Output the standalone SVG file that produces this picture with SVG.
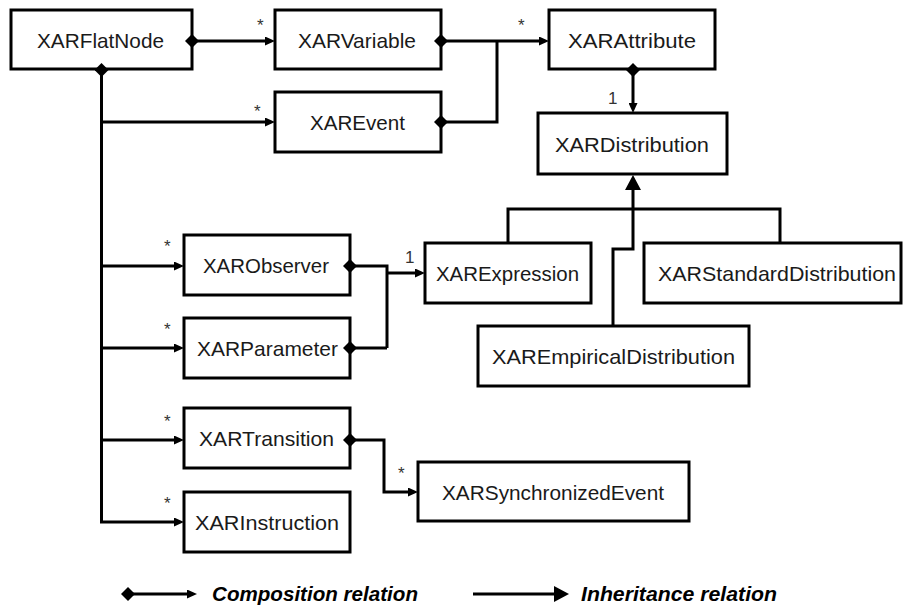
<svg xmlns="http://www.w3.org/2000/svg" width="904" height="610" viewBox="0 0 904 610">
<style>
  .box { fill: #ffffff; stroke: #000000; stroke-width: 3; }
  .lbl { font-family: "Liberation Sans", Arial, sans-serif; font-size: 21px; fill: #1a1a1a; }
  .card { font-family: "Liberation Sans", Arial, sans-serif; font-size: 17px; fill: #333333; }
  .num { font-family: "Liberation Sans", Arial, sans-serif; font-size: 17px; fill: #333333; }
  .leg { font-family: "Liberation Sans", Arial, sans-serif; font-size: 21px; font-weight: bold; font-style: italic; fill: #000000; }
  .ln { fill: none; stroke: #000000; stroke-width: 3; stroke-linejoin: miter; }
  .comp { marker-start: url(#diamond); }
  .arr { marker-end: url(#arrow); }
  .inh { marker-end: url(#tri); }
</style>
<defs>
  <marker id="arrow" viewBox="0 0 10 9" refX="4" refY="4.5" markerWidth="10" markerHeight="9" markerUnits="userSpaceOnUse" orient="auto">
    <path d="M0,0 L10,4.5 L0,9 z" fill="#000000"/>
  </marker>
  <marker id="diamond" viewBox="0 0 14 14" refX="7" refY="7" markerWidth="14" markerHeight="14" markerUnits="userSpaceOnUse" orient="auto">
    <path d="M0,7 L7,0 L14,7 L7,14 z" fill="#000000"/>
  </marker>
  <marker id="tri" viewBox="0 0 15 16" refX="7" refY="8" markerWidth="15" markerHeight="16" markerUnits="userSpaceOnUse" orient="auto">
    <path d="M0,0 L15,8 L0,16 z" fill="#000000"/>
  </marker>
</defs>

<g id="XARFlatNode">
  <rect class="box" x="11" y="10" width="181" height="59"/>
  <text class="lbl" x="37" y="48" textLength="127" lengthAdjust="spacingAndGlyphs">XARFlatNode</text>
</g>
<g id="XARVariable">
  <rect class="box" x="275" y="10" width="166" height="59"/>
  <text class="lbl" x="298" y="48" textLength="118" lengthAdjust="spacingAndGlyphs">XARVariable</text>
</g>
<g id="XARAttribute">
  <rect class="box" x="549" y="10" width="166" height="59"/>
  <text class="lbl" x="568" y="48" textLength="128" lengthAdjust="spacingAndGlyphs">XARAttribute</text>
</g>
<g id="XAREvent">
  <rect class="box" x="275" y="92" width="166" height="60"/>
  <text class="lbl" x="310" y="130" textLength="95" lengthAdjust="spacingAndGlyphs">XAREvent</text>
</g>
<g id="XARDistribution">
  <rect class="box" x="538" y="113" width="189" height="61"/>
  <text class="lbl" x="555" y="152" textLength="154" lengthAdjust="spacingAndGlyphs">XARDistribution</text>
</g>
<g id="XARObserver">
  <rect class="box" x="184" y="235" width="166" height="60"/>
  <text class="lbl" x="203" y="273" textLength="126" lengthAdjust="spacingAndGlyphs">XARObserver</text>
</g>
<g id="XARParameter">
  <rect class="box" x="184" y="318" width="166" height="60"/>
  <text class="lbl" x="197" y="356" textLength="141" lengthAdjust="spacingAndGlyphs">XARParameter</text>
</g>
<g id="XARExpression">
  <rect class="box" x="425" y="243" width="166" height="60"/>
  <text class="lbl" x="436" y="281" textLength="143" lengthAdjust="spacingAndGlyphs">XARExpression</text>
</g>
<g id="XARStandardDistribution">
  <rect class="box" x="644" y="243" width="257" height="60"/>
  <text class="lbl" x="658" y="281" textLength="238" lengthAdjust="spacingAndGlyphs">XARStandardDistribution</text>
</g>
<g id="XAREmpiricalDistribution">
  <rect class="box" x="478" y="326" width="271" height="60"/>
  <text class="lbl" x="492" y="364" textLength="243" lengthAdjust="spacingAndGlyphs">XAREmpiricalDistribution</text>
</g>
<g id="XARTransition">
  <rect class="box" x="184" y="408" width="166" height="60"/>
  <text class="lbl" x="199" y="446" textLength="135" lengthAdjust="spacingAndGlyphs">XARTransition</text>
</g>
<g id="XARInstruction">
  <rect class="box" x="184" y="492" width="166" height="60"/>
  <text class="lbl" x="195" y="530" textLength="144" lengthAdjust="spacingAndGlyphs">XARInstruction</text>
</g>
<g id="XARSynchronizedEvent">
  <rect class="box" x="418" y="462" width="271" height="59"/>
  <text class="lbl" x="442" y="500" textLength="222" lengthAdjust="spacingAndGlyphs">XARSynchronizedEvent</text>
</g>

<g id="connectors">
  <!-- XARFlatNode compositions -->
  <path class="ln comp arr" d="M192,41 H269"/>
  <path class="ln comp arr" d="M101.5,70 V522 H178"/>
  <path class="ln arr" d="M101.5,122 H269"/>
  <path class="ln arr" d="M101.5,266 H178"/>
  <path class="ln arr" d="M101.5,348 H178"/>
  <path class="ln arr" d="M101.5,440 H178"/>
  <!-- XARVariable / XAREvent to XARAttribute -->
  <path class="ln comp arr" d="M441,41 H543"/>
  <path class="ln comp" d="M441,122 H497 V41"/>
  <!-- XARAttribute to XARDistribution -->
  <path class="ln comp arr" d="M633,70 V107"/>
  <!-- XARObserver / XARParameter to XARExpression -->
  <path class="ln comp" d="M350,266 H387 V348"/>
  <path class="ln comp" d="M350,348 H387"/>
  <path class="ln arr" d="M387,273 H419"/>
  <!-- XARTransition to XARSynchronizedEvent -->
  <path class="ln comp arr" d="M350,440 H384 V492 H412"/>
  <!-- Inheritance -->
  <path class="ln" d="M508,243 V209 H780 V243"/>
  <path class="ln inh" d="M613,326 V249 H633 V183"/>
  <!-- Multiplicities -->
  <text class="card" x="257" y="31">*</text>
  <text class="card" x="254" y="117">*</text>
  <text class="card" x="518" y="31">*</text>
  <text class="num" x="608" y="104">1</text>
  <text class="card" x="164" y="252">*</text>
  <text class="card" x="164" y="335">*</text>
  <text class="num" x="405" y="263">1</text>
  <text class="card" x="164" y="427">*</text>
  <text class="card" x="164" y="509">*</text>
  <text class="card" x="398" y="479">*</text>
</g>

<g id="legend">
  <path class="ln comp arr" d="M128,594 H191"/>
  <text class="leg" x="212" y="601" textLength="206" lengthAdjust="spacingAndGlyphs">Composition relation</text>
  <path class="ln inh" d="M473,594 H561"/>
  <text class="leg" x="581" y="601" textLength="196" lengthAdjust="spacingAndGlyphs">Inheritance relation</text>
</g>
</svg>
